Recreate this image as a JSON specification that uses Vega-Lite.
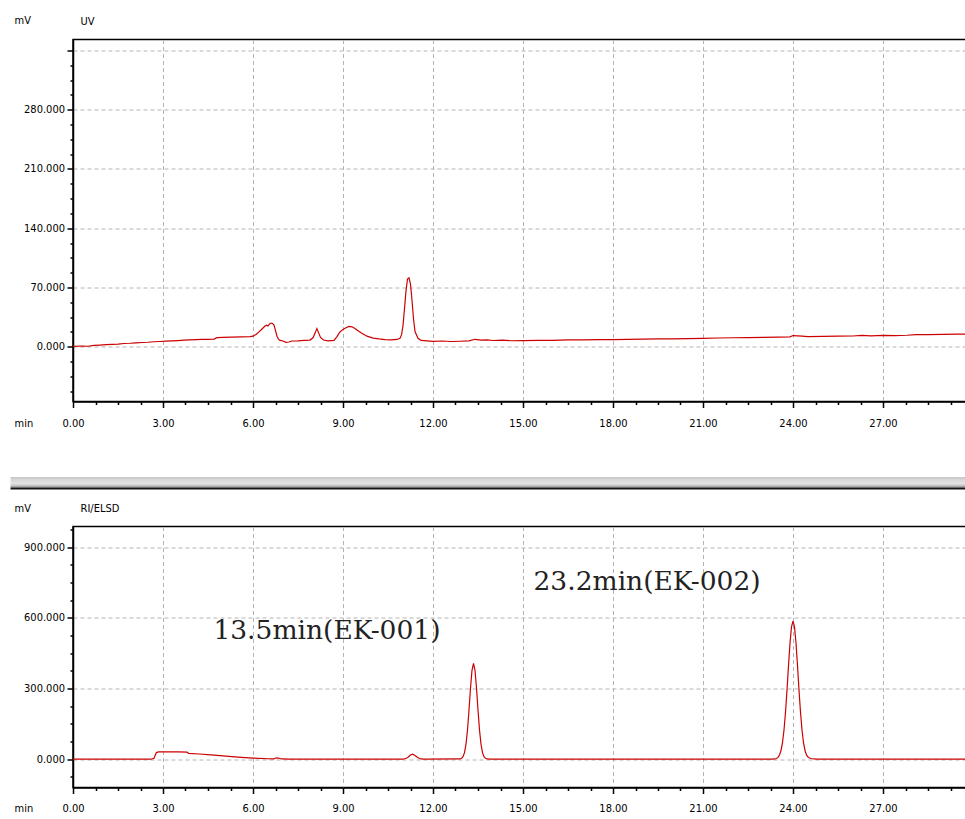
{
  "$schema": "https://vega.github.io/schema/vega-lite/v6.json",
  "autosize": {"type": "pad"},
  "padding": {"left": 10, "top": 13.5, "right": 0, "bottom": 0},
  "background": "white",
  "bounds": "flush",
  "spacing": 0,
  "config": {
    "view": {"stroke": "#000000", "strokeWidth": 1.5},
    "axis": {
      "labelFont": "DejaVu Sans Condensed",
      "titleFont": "DejaVu Sans Condensed",
      "labelFontSize": 11,
      "titleFontSize": 11,
      "titleFontWeight": "normal",
      "labelColor": "#000000",
      "titleColor": "#000000",
      "domainColor": "#000000",
      "domainWidth": 1.5,
      "tickColor": "#000000",
      "tickWidth": 1.5,
      "gridColor": "#b4b4b4",
      "gridDash": [4, 3],
      "gridWidth": 1
    },
    "title": {"font": "DejaVu Sans Condensed", "fontSize": 11, "fontWeight": "normal", "color": "#000000"}
  },
  "datasets": {
    "uv": [
      {"t":0,"v":0.5},{"t":0.3,"v":0.9},{"t":0.5,"v":0.6},{"t":0.7,"v":1.6},{"t":0.9,"v":2.0},{"t":1.1,"v":2.4},{"t":1.3,"v":2.9},{"t":1.5,"v":3.1},{"t":1.7,"v":3.8},{"t":1.9,"v":4.1},{"t":2.1,"v":4.6},{"t":2.3,"v":5.0},{"t":2.5,"v":5.3},{"t":2.7,"v":5.9},{"t":2.9,"v":6.2},{"t":3.1,"v":6.6},{"t":3.3,"v":7.0},{"t":3.5,"v":7.3},{"t":3.7,"v":7.7},{"t":3.9,"v":8.0},{"t":4.1,"v":8.3},{"t":4.3,"v":8.6},{"t":4.5,"v":8.8},{"t":4.7,"v":9.0},{"t":4.8,"v":10.8},{"t":5.0,"v":11.0},{"t":5.3,"v":11.3},{"t":5.6,"v":11.6},{"t":5.9,"v":12.0},{"t":6.0,"v":12.5},{"t":6.1,"v":14.5},{"t":6.2,"v":17.5},{"t":6.3,"v":21},{"t":6.4,"v":24.5},{"t":6.45,"v":25.5},{"t":6.5,"v":24.5},{"t":6.55,"v":27},{"t":6.6,"v":28},{"t":6.65,"v":27.5},{"t":6.7,"v":25.5},{"t":6.75,"v":19},{"t":6.8,"v":12.5},{"t":6.85,"v":9},{"t":6.9,"v":7.5},{"t":7.0,"v":6.8},{"t":7.1,"v":5.2},{"t":7.2,"v":5.6},{"t":7.3,"v":6.8},{"t":7.5,"v":6.9},{"t":7.7,"v":7.6},{"t":7.9,"v":7.9},{"t":8.0,"v":10.5},{"t":8.08,"v":17},{"t":8.13,"v":21.5},{"t":8.18,"v":17},{"t":8.25,"v":11},{"t":8.35,"v":8},{"t":8.5,"v":7},{"t":8.7,"v":7.6},{"t":8.8,"v":12},{"t":8.9,"v":17.5},{"t":9.0,"v":20.5},{"t":9.1,"v":22.5},{"t":9.2,"v":24},{"t":9.3,"v":23.5},{"t":9.4,"v":21.5},{"t":9.5,"v":19},{"t":9.6,"v":16.5},{"t":9.7,"v":14.5},{"t":9.8,"v":12.5},{"t":10.0,"v":10.2},{"t":10.2,"v":9.2},{"t":10.4,"v":8.4},{"t":10.6,"v":8.0},{"t":10.8,"v":8.6},{"t":10.9,"v":10},{"t":10.95,"v":14},{"t":11.0,"v":25},{"t":11.05,"v":45},{"t":11.1,"v":66},{"t":11.15,"v":80},{"t":11.2,"v":81.5},{"t":11.25,"v":74},{"t":11.3,"v":55},{"t":11.35,"v":33},{"t":11.4,"v":18},{"t":11.5,"v":10},{"t":11.6,"v":7.5},{"t":11.8,"v":7},{"t":12.0,"v":6.4},{"t":12.3,"v":6.8},{"t":12.6,"v":6.2},{"t":12.9,"v":6.5},{"t":13.2,"v":7.0},{"t":13.4,"v":8.8},{"t":13.6,"v":7.8},{"t":13.8,"v":8.2},{"t":14.0,"v":7.4},{"t":14.3,"v":7.9},{"t":14.6,"v":7.1},{"t":15.0,"v":7.3},{"t":15.5,"v":7.6},{"t":16.0,"v":7.5},{"t":16.5,"v":8.0},{"t":17.0,"v":8.1},{"t":17.5,"v":8.3},{"t":18.0,"v":8.4},{"t":18.5,"v":8.8},{"t":19.0,"v":8.9},{"t":19.5,"v":9.2},{"t":20.0,"v":9.4},{"t":20.5,"v":9.6},{"t":21.0,"v":9.9},{"t":21.5,"v":10.3},{"t":22.0,"v":10.6},{"t":22.5,"v":10.8},{"t":23.0,"v":11.1},{"t":23.5,"v":11.4},{"t":23.9,"v":11.6},{"t":24.0,"v":13.2},{"t":24.3,"v":12.6},{"t":24.5,"v":11.9},{"t":25.0,"v":12.2},{"t":25.5,"v":12.5},{"t":26.0,"v":12.7},{"t":26.3,"v":13.5},{"t":26.6,"v":12.9},{"t":27.0,"v":13.4},{"t":27.4,"v":13.2},{"t":27.8,"v":13.6},{"t":28.1,"v":14.2},{"t":28.5,"v":14.3},{"t":29.0,"v":14.6},{"t":29.5,"v":14.8},{"t":29.8,"v":15.0}
    ],
    "ri": [
      {"t":0,"v":0},{"t":1.0,"v":0},{"t":2.0,"v":0},{"t":2.6,"v":0},{"t":2.7,"v":4},{"t":2.78,"v":28},{"t":2.85,"v":31},{"t":3.2,"v":31},{"t":3.5,"v":31},{"t":3.8,"v":30},{"t":3.85,"v":25},{"t":4.2,"v":22},{"t":4.6,"v":18},{"t":5.0,"v":14},{"t":5.5,"v":9},{"t":6.0,"v":5},{"t":6.5,"v":2},{"t":6.7,"v":1},{"t":6.75,"v":5},{"t":6.85,"v":5},{"t":6.95,"v":1},{"t":7.2,"v":0},{"t":11.0,"v":0},{"t":11.15,"v":6},{"t":11.25,"v":18},{"t":11.32,"v":21},{"t":11.4,"v":16},{"t":11.5,"v":6},{"t":11.6,"v":1},{"t":11.7,"v":0},{"t":12.9,"v":1},{"t":12.95,"v":3.6},{"t":13.0,"v":11},{"t":13.05,"v":28},{"t":13.1,"v":64},{"t":13.15,"v":124},{"t":13.2,"v":209},{"t":13.25,"v":302},{"t":13.3,"v":377},{"t":13.35,"v":406},{"t":13.4,"v":377},{"t":13.45,"v":302},{"t":13.5,"v":209},{"t":13.55,"v":124},{"t":13.6,"v":64},{"t":13.65,"v":28},{"t":13.7,"v":11},{"t":13.75,"v":3.6},{"t":13.8,"v":1},{"t":13.9,"v":0},{"t":23.3,"v":0},{"t":23.4,"v":1},{"t":23.45,"v":3},{"t":23.5,"v":7.7},{"t":23.55,"v":18},{"t":23.6,"v":37},{"t":23.65,"v":70},{"t":23.7,"v":124},{"t":23.75,"v":199},{"t":23.8,"v":293},{"t":23.85,"v":397},{"t":23.9,"v":493},{"t":23.95,"v":561},{"t":24.0,"v":586},{"t":24.05,"v":561},{"t":24.1,"v":493},{"t":24.15,"v":397},{"t":24.2,"v":293},{"t":24.25,"v":199},{"t":24.3,"v":124},{"t":24.35,"v":70},{"t":24.4,"v":37},{"t":24.45,"v":18},{"t":24.5,"v":9},{"t":24.55,"v":5},{"t":24.6,"v":3},{"t":24.7,"v":1},{"t":24.8,"v":0},{"t":29.8,"v":0}
    ],
    "ann": [
      {"t": 4.68, "v": 543, "label": "13.5min(EK-001)"},
      {"t": 15.35, "v": 750, "label": "23.2min(EK-002)"}
    ],
    "sep": [
      {"x": -62.5, "x2": 894, "y": 75.7, "y2": 88}
    ]
  },
  "vconcat": [
    {
      "width": 894,
      "height": 362,
      "title": {"text": "UV", "anchor": "start", "frame": "group", "dx": 7.5, "offset": -18, "baseline": "middle"},
      "data": {"name": "uv"},
      "mark": {"type": "line", "color": "#cc0000", "strokeWidth": 1.2, "clip": true},
      "encoding": {
        "x": {
          "field": "t", "type": "quantitative",
          "scale": {"domain": [0, 29.8], "nice": false, "zero": false},
          "axis": {
            "title": "min", "titleAngle": 0, "titleAlign": "left", "titleBaseline": "middle", "titleX": -59, "titleY": 22,
            "values": [0,0.75,1.5,2.25,3,3.75,4.5,5.25,6,6.75,7.5,8.25,9,9.75,10.5,11.25,12,12.75,13.5,14.25,15,15.75,16.5,17.25,18,18.75,19.5,20.25,21,21.75,22.5,23.25,24,24.75,25.5,26.25,27,27.75,28.5,29.25],
            "labelExpr": "datum.value % 3 === 0 ? format(datum.value, '.2f') : ''",
            "labelPadding": 10,
            "labelFlush": false,
            "labelOverlap": false,
            "tickSize": {"condition": {"test": "datum.value % 3 === 0", "value": 6}, "value": 3},
            "gridOpacity": {"condition": {"test": "datum.value % 3 === 0", "value": 1}, "value": 0}
          }
        },
        "y": {
          "field": "v", "type": "quantitative",
          "scale": {"domain": [-64.7, 363], "nice": false, "zero": false},
          "axis": {
            "title": "mV", "titleAngle": 0, "titleAlign": "left", "titleBaseline": "middle", "titleX": -59, "titleY": -19,
            "values": [-52.5,-35,-17.5,0,17.5,35,52.5,70,87.5,105,122.5,140,157.5,175,192.5,210,227.5,245,262.5,280,297.5,315,332.5,350],
            "labelExpr": "datum.value % 70 === 0 && datum.value < 350 ? format(datum.value, '.3f') : ''",
            "labelPadding": 2.5,
            "labelOverlap": false,
            "labelFlush": false,
            "tickSize": {"condition": {"test": "datum.value % 70 === 0", "value": 6}, "value": 3},
            "gridOpacity": {"condition": {"test": "datum.value % 70 === 0", "value": 1}, "value": 0}
          }
        }
      }
    },
    {
      "width": 894,
      "height": 125,
      "view": {"stroke": null},
      "data": {"name": "sep"},
      "mark": {
        "type": "rect",
        "clip": false,
        "fill": {
          "gradient": "linear", "x1": 0, "y1": 0, "x2": 0, "y2": 1,
          "stops": [
            {"offset": 0, "color": "#b0b0b0"},
            {"offset": 0.12, "color": "#d2d2d2"},
            {"offset": 0.5, "color": "#e4e4e4"},
            {"offset": 0.72, "color": "#c0c0c0"},
            {"offset": 0.84, "color": "#6a6a6a"},
            {"offset": 0.9, "color": "#151515"},
            {"offset": 1, "color": "#151515"}
          ]
        }
      },
      "encoding": {
        "x": {"field": "x", "type": "quantitative", "scale": {"domain": [0, 894], "nice": false, "zero": false}, "axis": null},
        "x2": {"field": "x2"},
        "y": {"field": "y", "type": "quantitative", "scale": {"domain": [0, 125], "nice": false, "zero": false, "reverse": true}, "axis": null},
        "y2": {"field": "y2"}
      }
    },
    {
      "width": 894,
      "height": 261,
      "title": {"text": "RI/ELSD", "anchor": "start", "frame": "group", "dx": 7.5, "offset": -17, "baseline": "middle"},
      "encoding": {
        "x": {
          "field": "t", "type": "quantitative",
          "scale": {"domain": [0, 29.8], "nice": false, "zero": false},
          "axis": {
            "title": "min", "titleAngle": 0, "titleAlign": "left", "titleBaseline": "middle", "titleX": -59, "titleY": 21,
            "values": [0,0.75,1.5,2.25,3,3.75,4.5,5.25,6,6.75,7.5,8.25,9,9.75,10.5,11.25,12,12.75,13.5,14.25,15,15.75,16.5,17.25,18,18.75,19.5,20.25,21,21.75,22.5,23.25,24,24.75,25.5,26.25,27,27.75,28.5,29.25],
            "labelExpr": "datum.value % 3 === 0 ? format(datum.value, '.2f') : ''",
            "labelPadding": 9,
            "labelFlush": false,
            "labelOverlap": false,
            "tickSize": {"condition": {"test": "datum.value % 3 === 0", "value": 6}, "value": 3},
            "gridOpacity": {"condition": {"test": "datum.value % 3 === 0", "value": 1}, "value": 0}
          }
        },
        "y": {
          "field": "v", "type": "quantitative",
          "scale": {"domain": [-120, 987], "nice": false, "zero": false},
          "axis": {
            "title": "mV", "titleAngle": 0, "titleAlign": "left", "titleBaseline": "middle", "titleX": -59, "titleY": -18,
            "values": [-75,0,75,150,225,300,375,450,525,600,675,750,825,900,975],
            "labelExpr": "datum.value % 300 === 0 ? format(datum.value, '.3f') : ''",
            "labelPadding": 2.5,
            "labelOverlap": false,
            "labelFlush": false,
            "tickSize": {"condition": {"test": "datum.value % 300 === 0", "value": 6}, "value": 3},
            "gridOpacity": {"condition": {"test": "datum.value % 300 === 0", "value": 1}, "value": 0}
          }
        }
      },
      "layer": [
        {
          "data": {"name": "ri"},
          "mark": {"type": "line", "color": "#cc0000", "strokeWidth": 1.2, "clip": true}
        },
        {
          "data": {"name": "ann"},
          "mark": {"type": "text", "font": "DejaVu Serif", "fontSize": 26.5, "align": "left", "baseline": "middle", "color": "#222222"},
          "encoding": {
            "text": {"field": "label"}
          }
        }
      ]
    }
  ]
}
